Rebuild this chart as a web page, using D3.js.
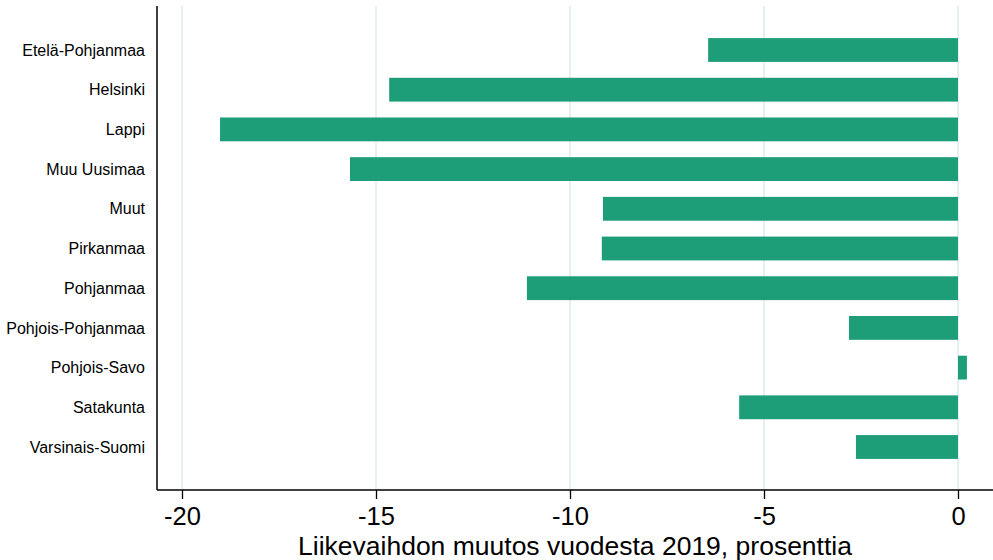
<!DOCTYPE html>
<html><head><meta charset="utf-8">
<script src="https://cdn.jsdelivr.net/npm/d3@7"></script>
<style>body{margin:0;background:#fff}svg{display:block;font-family:Arial,"Liberation Sans",sans-serif}</style>
</head><body><svg id="c" width="993" height="560"></svg>
<script>
const categories = ["Etelä-Pohjanmaa","Helsinki","Lappi","Muu Uusimaa","Muut","Pirkanmaa","Pohjanmaa","Pohjois-Pohjanmaa","Pohjois-Savo","Satakunta","Varsinais-Suomi"];
const values = [-6.44,-14.66,-19.02,-15.67,-9.15,-9.18,-11.11,-2.81,0.23,-5.64,-2.63];
const xTicks = [-20,-15,-10,-5,0];
const xTitle = "Liikevaihdon muutos vuodesta 2019, prosenttia";

(function(){
const svg = d3.select("#c");
const x = d3.scaleLinear().domain([-20,0]).range([182,958]);
const y = d3.scaleBand().domain(categories).range([30.15,466.85]).paddingInner(0.4).paddingOuter(0.2);
const axisY = 490, plotLeft = 157, plotRight = 993, plotTop = 6;

svg.append("g").selectAll("line").data(xTicks).join("line")
  .attr("x1", d=>x(d)).attr("x2", d=>x(d)).attr("y1", plotTop).attr("y2", axisY)
  .attr("stroke", "#e6eff2").attr("stroke-width", 2);

svg.append("g").selectAll("rect").data(values).join("rect")
  .attr("x", d=>x(Math.min(0,d))).attr("width", d=>Math.abs(x(d)-x(0)))
  .attr("y", (d,i)=>y(categories[i])).attr("height", y.bandwidth())
  .attr("fill", "#1d9e78");

const gx = svg.append("g").attr("transform", `translate(0,${axisY})`)
  .call(d3.axisBottom(x).tickValues(xTicks).tickSize(9).tickSizeOuter(0).tickFormat(d3.format("d")));
gx.select(".domain").remove();
gx.selectAll(".tick line").attr("stroke","#000").attr("stroke-width",1.3);
gx.selectAll(".tick text").attr("font-size", 25.5).attr("fill","#000").attr("dy","0").attr("y", 35)
  .text(d => d < 0 ? "-" + Math.abs(d) : d);

svg.append("line").attr("x1", plotLeft).attr("x2", plotRight).attr("y1", axisY).attr("y2", axisY).attr("stroke","#000").attr("stroke-width",1.5);
svg.append("line").attr("x1", plotLeft).attr("x2", plotLeft).attr("y1", plotTop).attr("y2", axisY).attr("stroke","#000").attr("stroke-width",1.5);

svg.append("g").selectAll("text").data(categories).join("text")
  .attr("x", 145).attr("y", d=>y(d)+y.bandwidth()/2).attr("dy","0.35em")
  .attr("text-anchor","end").attr("font-size", 16).attr("fill","#000").text(d=>d);

svg.append("text").attr("x", 575).attr("y", 555).attr("text-anchor","middle")
  .attr("font-size", 26.5).attr("fill","#000").text(xTitle);
})();
</script></body></html>
